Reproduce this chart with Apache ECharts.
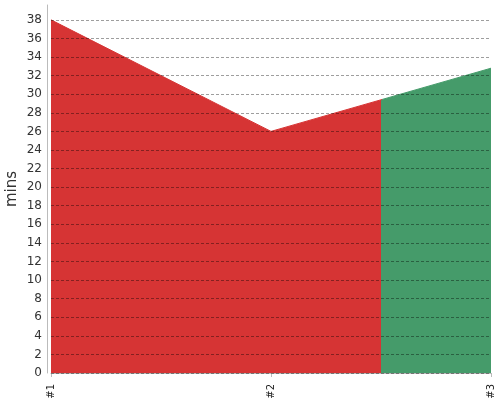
<!DOCTYPE html>
<html><head><meta charset="utf-8">
<script src="https://cdn.jsdelivr.net/npm/echarts@6/dist/echarts.min.js"></script>
<style>html,body{margin:0;padding:0;background:#fff}#c{width:500px;height:400px}</style>
</head><body><div id="c"></div>
<script>
const categories = ['#1', '#2', '#3'];
const minsValues = [38, 26, 32.8];
const splitIndex = 1.5;
const redColor = '#d63434';
const greenColor = '#459b6a';

const splitOffset = splitIndex / (categories.length - 1);
const makeFill = () => new echarts.graphic.LinearGradient(0, 0, 1, 0, [
  { offset: 0, color: redColor },
  { offset: splitOffset, color: redColor },
  { offset: splitOffset, color: greenColor },
  { offset: 1, color: greenColor }
]);

const chart = echarts.init(document.getElementById('c'));
chart.setOption({
  animation: false,
  grid: { left: 51, right: 9, top: 5, bottom: 27, outerBoundsMode: 'none', containLabel: false },
  xAxis: {
    type: 'category',
    data: categories,
    boundaryGap: false,
    offset: 5,
    axisLine: { lineStyle: { color: '#bbb', width: 1 } },
    axisTick: { show: true, length: 4, lineStyle: { color: '#bbb' } },
    axisLabel: { rotate: 90, color: '#222', fontSize: 10, fontFamily: 'DejaVu Sans', margin: 6 },
    splitLine: { show: false }
  },
  yAxis: {
    type: 'value',
    min: 0,
    max: 39.6,
    interval: 2,
    offset: 4,
    z: 5,
    name: 'mins',
    nameLocation: 'middle',
    nameGap: 27,
    nameMoveOverlap: false,
    nameTextStyle: { fontSize: 15, color: '#333', fontFamily: 'DejaVu Sans' },
    axisLine: { show: true, lineStyle: { color: '#bbb', width: 1 } },
    axisTick: { show: false },
    axisLabel: { color: '#333', fontSize: 12, fontFamily: 'DejaVu Sans', margin: 5, showMaxLabel: false },
    splitLine: { show: true, showMaxLine: false, lineStyle: { type: [3, 2], color: 'rgba(0,0,0,0.38)', width: 1 } }
  },
  series: [{
    type: 'line',
    data: minsValues,
    symbol: 'none',
    lineStyle: { width: 1, color: makeFill() },
    areaStyle: { opacity: 1, color: makeFill() },
    z: 2
  }]
});
</script></body></html>
